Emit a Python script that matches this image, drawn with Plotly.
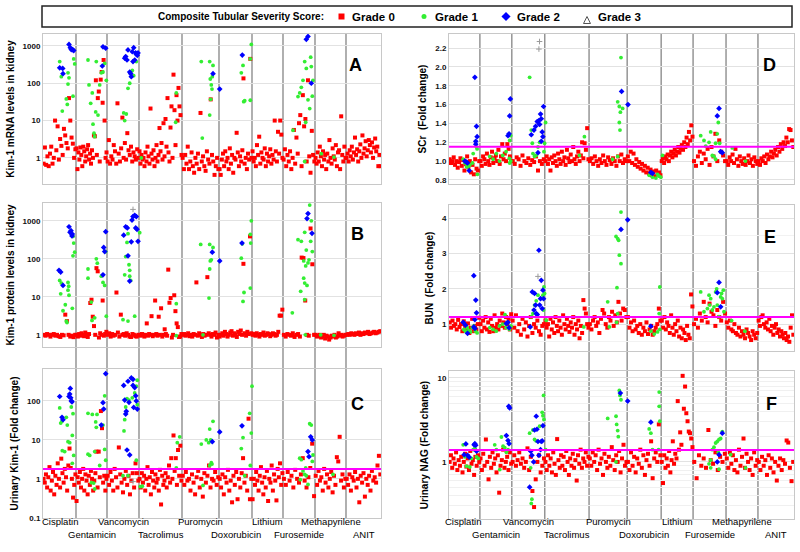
import math
import plotly.graph_objects as go

# ---------------- data ----------------
DRUGS = ["Cisplatin", "Gentamicin", "Vancomycin", "Tacrolimus", "Puromycin",
         "Doxorubicin", "Lithium", "Furosemide", "Methapyrilene", "ANIT"]
GROUP_SIZES = [33, 31, 32, 43, 37, 33, 31, 32, 31, 35]   # animals per study (sample index span)

LEGEND_TITLE = "Composite Tubular Severity Score:"
GRADE_NAMES = ["Grade 0", "Grade 1", "Grade 2", "Grade 3"]

# Panel A: Kim-1 mRNA in kidney (grade 0 values listed per study, in sample order)
A_GRADE0 = [
    [0.7,1.9,0.65,1.1,0.6,1.3,2.0,0.7,1.0,10,1.6,7,0.9,3.2,2.1,1.2,6,4,2.5,1.8,40,10,3.5,2.4,1.0,1.7],
    [1.8,0.5,1.4,0.9,1.9,1.2,0.6,2.0,1.5,0.8,1.1,1.7,2.2,0.9,1.3,0.7,1.6,1.0,4,3.8,120,1.2,40,60,0.8,125,200,30,420,10,1.0,1.4],
    [0.8,3.0,0.7,1.1,0.9,2.2,1.5,0.7,29,1.3,0.8,1.8,12,1.0,2.5,0.9,4.6,1.6,1.2,2.0,0.8,1.4,1.1,0.9,1.7,1.0],
    [1.5,0.7,1.2,0.9,1.0,0.6,1.4,0.8,2.0,1.1,0.7,21,1.3,0.9,1.6,0.6,1.0,2.2,0.8,1.2,6.3,1.5,2.5,0.9,8.5,1.1,11,2.0,40,1.4,0.8,6.5,24,1.0,170,19,2.2,48,10,75,24,14,1.2],
    [1.0,0.5,1.2,0.7,2.0,0.5,0.8,1.4,0.6,0.4,1.0,0.7,1.3,0.5,16,0.8,1.1,0.6,0.45,1.5,0.9,0.7,37,1.2,0.8,0.35,0.6,1.0,0.5],
    [0.5,0.35,0.9,1.3,0.6,1.5,0.8,1.0,0.5,1.8,0.7,1.2,0.4,1.0,0.9,4.7,1.4,0.6,1.1,0.8,1.6,135,0.7,1.0,0.5,1.3,0.9,450,1.0],
    [1.5,0.8,1.0,0.6,2.2,1.2,3.7,0.7,1.4,1.0,0.9,1.8,0.6,1.3,0.8,1.1,1.7,0.7,1.2,0.9,10,1.5,0.8,5,1.3,10,4.2,1.0],
    [0.9,1.7,0.6,1.2,0.8,1.5,0.5,1.0,5.6,0.7,3.5,1.3,8.5,14,0.6,48,7,11,0.8,120,1.1,0.4,5.3,1.2,0.8],
    [1.0,0.7,1.4,0.8,2.0,1.1,0.6,1.5,0.9,1.2,0.5,1.3,0.8,3.0,1.0,0.7,1.8,1.1,0.9,2.2,0.6,1.4,1.6,0.5,13,1.2,0.8,2.0,1.0],
    [1.0,1.3,0.8,1.6,1.1,2.0,0.9,1.4,3.5,1.2,1.7,0.8,1.5,2.3,1.0,4,1.3,1.8,2.8,1.1,1.6,3.0,2.2,1.4,2.6,1.0,1.9,3.3,1.5,2.0,0.6,1.2,0.6],
]
# graded animals: [sample index, value]
A_GRADE1 = [[16.7,380],[18.3,150],[19.3,18],[23.3,38],[24.3,27],[25,190],[25,95],[26,140],[29.3,800],[30,45],[30.7,450],[31.7,330],
            [45,420],[46,90],[47.7,29],[49.3,55],[50,8],[51,4.6],[51.7,3.7],[52.7,17],[53.3,380],[55,14],[56.7,90],[58.3,190],[60,200],[61.7,340],[63.3,120],
            [80.7,16],[81.7,10],[83.3,15],[85,73],[86.7,100],[87.7,200],[89.3,220],[90.7,160],[93.3,380],
            [98.3,1.0],[133.3,55],[132.7,9],
            [158.3,380],[159.3,3.4],[166.7,380],[166.7,14],[167.3,130],[167.7,37],[168.3,90],[169,70],[170,300],[169.3,150],
            [198.3,190],[200,300],[200.7,32],[201.7,34],[207.3,35],[208.3,1100],[207.3,450],
            [250,5.5],[255,44],[256.7,55],[258.3,78],[260,120],[261.7,380],[262.7,9],[263.3,250],[265,36],[266.7,21],[267.7,500],[268.3,280],[269.3,45],[270,120],[261.7,0.8],
            [278.3,1.3],[291,1.05]]
A_GRADE2 = [[16.7,260],[19.7,250],[20,180],[26,1100],[27.3,900],[28.3,800],[29.7,800],[30.7,750],
            [59.3,290],[60,950],[62.7,870],
            [81.7,470],[82.7,520],[84,420],[85,780],[86.7,200],[87.7,180],[88.3,150],[89.3,700],[90,380],[90.7,900],[91.7,420],[92.7,650],[93.3,600],[94.3,560],[95,650],
            [170,180],[176.7,70],[199.3,570],
            [263.3,1500],[265,1800],[268.3,100]]
A_GRADE3 = []

# Panel B: Kim-1 protein in kidney
B_GRADE0 = [
    [1.0,0.95,1.05,1.0,0.9,1.0,1.05,0.95,1.0,0.92,0.88,1.0,0.97,3.4,2.3,1.0,0.9,0.95,0.87,1.0],
    [1.0,0.9,1.05,0.95,1.1,1.0,0.92,1.15,1.0,0.88,1.05,6.9,8.4,3,1.7,1.0,57,47,0.85,1.1,1.0,8,0.95,1.05,1.2],
    [1.0,1.1,0.9,1.05,0.95,1.0,13,1.15,0.9,3.4,1.0,1.05,0.95,1.1,1.0,0.9,0.88,1.05,1.0,0.92,0.9,1.0],
    [1.0,0.95,1.05,1.0,0.9,1.0,2,0.95,1.05,1.0,3.1,0.92,1.0,8,1.05,0.95,3,1.0,5,0.9,1.0,1.4,1.05,0.95,52,7,9.3,0.85,1.0,11,4.2,2,1.6,0.88,0.9,1.05],
    [1.0,1.05,0.95,1.0,1.1,0.92,1.0,0.9,1.05,1.0,24,0.95,1.1,1.0,0.88,1.05,0.95,1.0,33,1.1,1.0,0.9,1.05,1.0,1.15,0.85,1.0],
    [0.9,1.0,1.1,0.95,1.2,1.05,0.9,1.0,1.15,1.25,0.95,1.1,1.0,0.88,1.2,1.05,1.3,1.0,74,1.1,0.95,1.2,1.05,390,1.1],
    [1.0,1.05,0.95,1.1,1.0,0.9,1.05,1.0,1.15,0.95,1.0,1.1,1.05,0.92,1.0,1.1,1.05,0.95,1.0,1.2,3.2,3.2,4.6],
    [1.0,0.9,1.05,1.0,0.95,1.1,0.88,1.0,1.05,0.9,108,105,8,1.0,0.95,630,72,1.0],
    [1.0,0.9,0.95,1.0,0.85,0.9,1.0,0.8,0.95,0.9,0.75,0.85,0.95,0.9,1.0,0.85,0.9,1.1,0.95,1.0,0.9,0.95,1.0],
    [1.0,1.05,1.0,1.1,1.05,1.0,1.1,1.05,1.15,1.0,1.1,1.05,1.15,1.1,1.2,1.05,1.1,1.15,1.2,1.1,1.15,1.2,1.25],
]
B_GRADE1 = [[16.7,27],[18.3,23],[17.7,12],[20,4.3],[22.3,6.2],[23.3,2.3],[24,2.1],[25,24],[25.7,19],[26,11],[25,15],[29.3,5],[30,120],[30.7,260],[31.7,150],[30,390],
            [45,54],[45,31],[48.3,7.3],[49,2.4],[51.7,2.8],[53.3,100],[54.3,77],[58.3,35],[60,24],[61.7,20],[62.7,155],[63.3,3.1],
            [80,2.5],[81.7,38],[82.7,115],[84,270],[85,460],[86,70],[86.7,50],[85,2.3],[86.7,35],[87.7,27],[96.7,490],[91.7,3.1],
            [133.3,6.6],[133.3,0.95],
            [157.7,240],[166.7,240],[167.3,88],[166,9.3],[166.7,54],[168.3,94],[170,200],[160,1.0],
            [198.3,104],[199.3,250],[201,13],[200,7.6],[207.3,17],[207.7,260],[208.3,1000],[207.3,440],
            [249.3,3.8],[255,320],[257.7,14],[258.3,290],[260.7,88],[260.7,31],[261.7,23],[261.7,500],[262.7,65],[263.3,170],[264,20],[265,78],[266,94],[266.7,2600],[267.7,290],[268.3,1000],[269.3,155],[261.7,8.4],[262.3,1.0],
            [277.7,1.0],[291,0.97]]
B_GRADE2 = [[16,50],[17.7,45],[20,20],[26,700],[27,500],[28,550],[29,400],[29.3,450],
            [60,38],[60.7,200],[61.7,155],[62.7,520],
            [80.7,420],[82.7,700],[84.3,650],[85,120],[86.7,26],[88.3,280],[89,1050],[90,1300],[91.7,1400],[93.3,1300],[92.7,650],[94,600],[95,290],
            [169.3,150],[176.7,88],[199,260],
            [265,1560],[264,1150],[269,470]]
B_GRADE3 = [[90,2000]]

# Panel C: urinary Kim-1 (fold change)
C_GRADE0 = [
    [1.0,0.8,1.3,0.6,1.1,2.0,0.5,0.9,1.5,0.4,1.2,0.7,2.5,1.0,0.6,3.3,1.4,0.8,1.8,1.1,0.5,2.2,6,1.9,1.0,0.33,0.7,1.3],
    [0.27,1.1,0.8,1.5,0.6,1.0,1.8,0.5,1.3,0.9,0.4,1.2,0.7,1.6,1.0,0.5,0.9,1.4,5,0.6,5,1.1,55,20,0.8,1.2,0.5,1.0],
    [1.2,0.7,1.5,0.9,0.5,1.8,1.1,0.6,6.4,1.3,0.8,0.45,1.0,1.6,0.7,1.2,0.4,0.9,1.4,0.6,2.5,1.4,0.9],
    [1.0,0.6,1.4,0.8,1.2,0.5,1.0,2.0,0.7,1.1,0.4,1.5,0.9,0.6,1.3,0.8,1.0,0.5,1.7,0.22,1.2,0.7,0.9,1.4,0.6,1.1,2.2,0.8,3.4,1.0,13,1.6,3.4,0.7,5.5,1.2,7.1,0.9],
    [1.2,0.7,1.5,0.9,1.0,0.5,1.3,0.8,0.4,1.1,1.6,0.6,1.0,0.35,1.4,0.8,1.2,2.2,0.6,1.0,0.9,1.5,0.7,1.1],
    [1.0,0.6,1.3,0.4,1.1,0.8,1.7,0.5,0.9,0.25,1.2,0.7,1.5,0.3,1.0,0.6,1.4,3.4,0.8,1.2,0.5,35,0.3,1.0],
    [0.3,1.0,0.7,1.5,0.9,0.5,1.2,2.0,0.8,0.4,1.1,0.6,1.6,0.27,1.0,0.8,2.2,0.5,1.3,0.9,0.28,1.8,1.1,2.5,0.7,1.4],
    [1.0,0.7,1.5,0.9,1.2,0.6,1.7,1.0,0.8,1.3,3.4,0.9,0.6,1.1,1.9,8,0.36],
    [1.2,0.7,1.6,0.9,1.1,0.5,1.8,0.8,1.3,0.6,1.0,1.5,0.45,1.2,0.7,3.6,2.8,12,0.9,1.3,0.6,1.0],
    [1.0,0.7,1.3,0.5,1.1,0.9,1.5,0.6,1.0,0.25,1.2,0.8,1.4,0.35,1.0,0.7,1.2,0.5,1.6,0.9,1.1,0.8,2.2,3.9,1.3],
]
C_GRADE1 = [[16.7,66],[17.7,27],[19,30],[19.3,5.3],[21.7,5],[23.3,38],[25,9],[24.3,24],[26.7,8.5],[28.3,70],[29.3,13],[30,47],[29.3,2.5],[30.7,4],
            [45,48],[45,4.3],[46.7,4],[49.3,45],[52.7,29],[53.3,21],[51.7,5],[54,45],[56.7,2.2],[61.7,135],[61.7,5.7],[62.7,3],[60,24],[48.3,0.8],[50.7,0.78],[51.7,0.55],
            [80,1.2],[81,17],[81.7,33],[82.7,70],[84,115],[85,1.2],[86,105],[89.3,120],[91.7,160],[93.3,240],[94.3,340],[94.3,80],[93.3,3],[97.3,0.63],
            [133.3,1.9],[134.3,8.5],[136.7,12],[99.3,0.65],
            [158.3,7.8],[163.3,10],[165.7,8.5],[166.7,19],[167.7,10],[170,30],[168.3,2.6],[169,2.4],[160,0.68],[166.7,2.2],
            [198.3,6],[200,11.5],[201.7,1.2],[206.7,48],[207.3,2.2],[208.3,15],[209,240],
            [256.7,3.4],[258.3,3.1],[260,1.6],[261.7,1.3],[262.7,1.9],[263.3,1.2],[265,0.72],[266.7,26],[268.3,24],[269.3,2.8],[270,4.1],[257.3,0.95],
            [290,1.3]]
C_GRADE2 = [[16.7,130],[19,38],[20,33],[26.7,150],[27.3,210],[27.7,120],[28.3,100],[29,95],[26,130],
            [58.3,24],[60,90],[60.7,62],[62.7,500],
            [80.7,250],[81.7,105],[82.7,46],[83.3,54],[84,5.5],[85,320],[86,92],[86.7,4.1],[88.3,390],[90,360],[90.7,68],[91.7,220],[92.7,135],[93.3,100],[94.3,62],[90,250],
            [169.3,9],[176.7,16],[199,23],
            [265,5],[266,3.7],[267.7,12],[269.3,10]]
C_GRADE3 = [[90,0.85]]

# Panel D: serum creatinine (fold change)
D_GRADE0 = [
    [1.02,0.98,1.0,1.04,0.96,1.0,0.93,0.99,1.03,0.95,1.01,0.9,0.97,1.05,0.94,1.0,0.88,0.96,0.86,1.02,0.92,0.9,1.0],
    [1.0,0.95,1.05,1.02,0.97,1.08,1.0,0.96,1.04,1.1,0.98,1.03,1.06,1.0,1.12,0.97,1.05,1.18,1.02,1.08,1.0,1.18,1.13,1.05,1.0],
    [1.0,0.97,1.04,1.02,0.95,1.06,1.0,0.98,1.03,0.96,1.01,0.99,1.05,0.9,1.0,0.97,1.02],
    [1.0,1.05,0.97,1.02,0.9,1.04,0.98,1.06,1.0,0.95,1.08,1.02,0.97,1.1,1.0,1.04,0.96,1.12,1.03,0.99,1.07,1.0,1.15,1.02,0.97,1.05,1.1,1.0,1.06,1.2,1.03,1.19,1.12,1.35,1.02],
    [1.0,1.03,0.97,1.05,1.0,0.95,1.02,0.98,1.06,1.0,0.96,1.04,1.01,0.97,1.03,1.0,0.95,1.05,1.0,1.07,0.98,1.02,1.0],
    [1.05,1.0,1.1,0.98,1.08,0.96,1.02,0.94,0.99,0.92,0.97,0.9,0.95,0.88,0.93,0.87,0.91,0.85,0.89,0.84,0.9,0.86,0.88,0.85],
    [1.0,1.03,0.98,1.05,1.02,1.07,1.0,1.06,1.1,1.04,1.08,1.12,1.06,1.1,1.15,1.09,1.13,1.17,1.12,1.2,1.15,1.25,1.18,1.31,1.22,1.38,1.26],
    [1.0,0.95,1.05,1.1,0.98,1.08,1.02,1.13,0.96,1.15,1.05,1.29,1.0,1.22,1.1,1.06,1.0],
    [1.0,0.96,1.04,1.0,1.07,0.98,1.13,1.02,0.95,1.05,1.0,0.97,1.03,0.96,1.0,1.06,0.98,1.02,0.95,1.04,1.0,0.97],
    [1.0,0.96,1.03,1.0,1.05,0.98,1.07,1.02,1.05,1.1,1.04,1.08,1.12,1.06,1.15,1.1,1.18,1.13,1.2,1.16,1.25,1.2,1.34,1.33,1.22,1.15],
]
D_GRADE1 = [[16.8,1.02],[18.4,0.98],[20,0.94],[21.6,0.94],[23.2,0.96],[25.8,0.98],[26.5,1.08],[30.6,0.86],[29.7,1.15],[30.3,1.13],
            [42.6,1.05],[45.8,1.02],[48.9,1.08],[52,1.0],[55.2,1.06],[58.4,1.1],[61.6,1.03],[63,1.0],[62.9,1.27],[61.9,1.22],[61.9,0.98],
            [81.3,1.89],[82.9,1.33],[83.9,1.19],[84.5,1.08],[86.1,1.05],[87.7,1.06],[89.4,1.15],[91,1.2],[96.8,1.41],[95.2,1.1],[95.8,1.19],
            [134.5,1.26],[129.7,1.06],
            [166.8,1.63],[168.4,1.58],[169.4,1.52],[170,2.1],[168.4,1.41],[169,1.33],[171.6,1.56],[161.9,1.02],[166.8,1.05],
            [197.4,0.85],[200.6,0.83],[203.9,0.82],[207,0.84],[208.7,0.83],[205.5,0.86],
            [210.3,1.06],
            [247.4,1.27],[250.6,1.22],[252.3,1.16],[255.5,1.2],[257.1,1.31],[258.7,1.06],[260.3,1.05],[261.9,1.19],[263.5,1.29],[264.5,1.41],[265.8,1.19],[266.8,1.1],[261.9,1.02],
            [278.1,1.14],[290.9,1.0]]
D_GRADE2 = [[18.4,1.0],[20,0.99],[21,0.98],[22.6,0.9],[28.1,1.89],[29,1.18],[29.7,1.37],[30.3,1.26],[29,1.21],
            [60.3,1.27],[61.3,1.29],[61.9,1.48],[62.6,1.66],
            [82.9,1.28],[85.5,1.33],[87.1,1.37],[88.7,1.42],[90.3,1.43],[91,1.39],[91.9,1.5],[92.6,1.45],[93.5,1.31],[94.2,1.26],[94.8,1.58],[92.6,1.21],[89.4,1.09],
            [170.6,1.74],[176.8,1.6],
            [199,0.88],[200.6,0.87],
            [263.5,1.48],[265.2,1.56],[266.8,1.1],[268.4,1.09]]
D_GRADE3 = [[90.9,2.27],[90.3,2.19]]

# Panel E: blood urea nitrogen (fold change)
E_GRADE0 = [
    [1.05,0.9,1.1,0.95,1.0,0.85,1.12,0.92,1.0,0.8,1.08,0.95,0.88,1.02,0.75,0.9,1.15,0.8,0.95,0.85,1.0,1.18],
    [1.0,0.8,1.1,0.9,1.2,0.85,1.05,0.78,1.15,0.95,0.8,1.25,0.9,1.0,0.85,1.1,0.95,1.3,1.05,0.9,1.2,1.0,1.15,0.85,1.28],
    [1.1,0.9,1.25,0.8,1.0,0.7,1.15,0.85,1.05,0.65,0.95,1.2,0.75,1.0,0.9,1.1,0.8,0.7,0.95,1.0],
    [1.1,0.9,1.0,0.65,1.15,0.85,1.05,0.75,1.2,0.95,0.8,1.1,0.9,0.7,1.25,1.0,0.85,1.15,0.95,0.78,1.05,0.9,1.2,0.7,1.0,0.85,1.1,0.6,0.95,0.75,1.68,1.44,1.3,1.0,0.9],
    [1.0,0.85,1.1,1.2,0.95,1.05,0.75,1.15,1.4,1.3,1.0,0.9,1.2,1.1,1.35,0.95,1.25,1.05,1.63,1.3,1.1,1.44,1.4,1.2],
    [1.2,0.9,1.05,0.8,1.1,0.85,0.95,0.75,1.0,0.7,0.9,0.8,1.05,0.72,0.85,0.95,0.7,0.8,0.9,1.0,1.44,1.1],
    [1.1,0.9,1.2,0.85,1.05,0.95,0.75,1.25,0.9,0.7,1.0,0.8,1.1,0.65,0.9,0.6,0.85,0.75,0.55,0.95,0.7,0.6,1.84,1.5],
    [1.0,1.15,0.9,1.3,1.1,1.63,1.2,1.05,1.58,1.35,1.25,0.95,1.4,1.2,1.1,1.63,1.3],
    [1.05,0.9,1.1,0.85,0.8,1.0,0.75,0.7,0.9,0.65,0.8,0.7,0.6,0.85,0.75,0.65,0.55,0.8,0.7,0.6,0.75],
    [1.1,0.95,1.2,1.25,1.0,0.9,1.05,0.85,1.15,0.8,0.95,0.7,0.9,1.0,0.75,0.85,0.65,0.8,0.7,0.6,0.75,0.55,0.65,0.5,0.9,1.25,0.7],
]
E_GRADE1 = [[17.4,0.85],[19,0.8],[20.6,0.9],[22.3,0.82],[23.9,0.78],[25.5,0.9],[27.1,0.95],[28.7,0.8],[30.3,0.75],
            [42.6,0.9],[45.8,0.85],[48.9,0.8],[52,0.95],[55.2,1.0],[57.4,1.27],[58.4,0.9],[61.6,0.85],[63.2,0.95],
            [82.9,1.21],[84.5,1.3],[86.1,1.54],[87.7,1.66],[89.4,1.82],[94.2,1.82],[95.2,2.05],[95.8,1.87],[94.8,1.4],[97.4,1.11],
            [133.9,0.92],
            [157.1,1.63],[158.7,0.92],[165.2,3.48],[166.8,3.42],[167.7,3.37],[168.4,2.95],[170,4.17],[170,2.71],[166.1,2.03],[166.8,1.3],[165.8,1.05],
            [199,0.8],[202.3,0.72],[205.5,0.78],[207.7,0.85],[207.7,2.05],[207.1,1.3],
            [247.4,1.91],[250.6,1.35],[253.9,1.44],[255.5,1.82],[256.1,1.54],[257.1,1.72],[258.7,1.4],[260.3,1.49],[261.9,1.91],[262.9,2.0],[263.5,1.54],[265.2,1.21],[266.8,1.77],[267.7,1.87],[268.4,1.72],[269.4,1.96],[270,1.35],
            [277.4,1.1],[290.3,0.8]]
E_GRADE2 = [[16.8,1.05],[19,0.97],[21,0.74],[27.1,0.92],[27.1,2.37],[29,1.68],[29.7,1.32],[28.1,1.13],[28.1,0.88],
            [58.7,1.02],[60.3,1.05],[61.3,0.9],
            [81.9,0.92],[83.9,1.91],[86.1,1.87],[85.5,1.4],[87.1,1.54],[87.7,1.3],[88.7,1.27],[90.3,3.09],[91,1.54],[91.9,1.72],[92.6,2.24],[93.5,1.44],[94.2,1.96],[94.8,1.72],
            [170,3.68],[176.5,3.95],[199,0.94],
            [263.5,1.89],[265.2,2.18],[266.8,1.49]]
E_GRADE3 = [[89.4,2.35]]

# Panel F: urinary NAG (fold change)
F_GRADE0 = [
    [1.0,1.2,0.85,1.1,0.95,1.3,0.8,1.05,0.9,1.15,0.75,1.0,1.25,0.88,1.1,0.8,1.35,0.95,1.05,0.7,1.15,0.9,1.2,1.0],
    [1.1,0.8,1.25,0.9,1.85,1.0,0.62,1.15,0.85,1.3,0.95,1.1,0.75,1.2,0.43,0.9,1.05,1.4,0.85,1.0,1.15,0.8,1.3,0.95],
    [1.0,1.2,0.9,1.05,1.3,0.95,1.1,0.85,1.0,1.45,0.8,1.15,0.45,0.29,0.62,1.0,1.2,0.75,0.9,1.1],
    [1.0,0.8,1.2,0.9,1.1,0.75,1.3,0.95,0.7,1.87,1.05,0.85,1.2,0.9,1.15,0.8,1.35,1.0,0.7,1.1,0.9,1.25,0.85,1.05,0.6,1.2,0.95,1.4,0.85,1.1,1.0,1.3,0.9,1.15],
    [1.1,0.9,1.3,1.0,1.2,0.8,1.4,0.95,1.1,0.7,1.25,1.0,0.85,1.15,0.9,1.5,1.05,0.8,1.2,1.0,1.35,0.75,1.1,1.6,0.9,1.0],
    [1.0,0.8,1.3,0.9,1.15,0.75,1.1,0.95,1.4,0.85,1.2,0.7,1.05,1.25,0.9,1.76,0.64,1.1,1.3,1.0,2.8,1.2],
    [1.0,0.56,1.2,0.85,1.1,0.9,1.35,0.75,1.05,1.76,0.95,1.25,1.1,5.3,1.4,2.25,1.6,10.6,4.3,7.9,3.8,3.05,2.3,2.2,1.9,1.5],
    [1.0,0.64,1.2,0.9,1.1,0.85,2.4,1.05,0.95,1.3,0.8,1.15,1.0,1.25],
    [1.1,0.85,1.3,0.95,1.2,0.8,1.05,0.75,1.4,0.9,1.15,1.9,0.85,1.25,1.0,0.8,1.1,0.7,1.3,0.9,1.05],
    [1.0,0.8,1.15,0.9,1.05,0.7,1.2,0.85,1.1,0.75,1.0,0.6,0.9,1.1,0.8,1.05,0.95,1.8,1.7,0.85,0.59,1.0],
]
F_GRADE1 = [[16.8,1.6],[18.4,1.15],[20,0.89],[23.2,0.87],[24.8,1.1],[26.5,1.4],[28.1,1.45],[29.7,1.15],[31.3,1.1],
            [47.4,1.6],[49,1.4],[52.3,0.81],[53.9,1.98],[55.5,1.54],[57.1,1.48],[58.7,1.3],[60.3,1.4],
            [81.3,2.2],[82.3,0.85],[82.9,0.32],[83.5,0.36],[84.5,2.4],[86.1,1.85],[87.7,1.78],[91,2.66],[93.5,3.9],[94.2,3.55],[95.2,3.2],[94.8,6.2],[96.8,1.4],
            [157.1,3.3],[165.2,3.5],[165.8,2.8],[166.8,2.36],[167.4,2.0],[168.4,7.1],[169,6.2],[170,5.5],[165.2,1.0],
            [197.4,2.47],[199,2.2],[200.6,1.4],[207.1,6.8],[207.1,4.6],[207.7,3.05],[206.5,1.4],
            [255.5,0.95],[257.1,1.05],[258.7,1.4],[260.3,1.5],[261.9,1.68],[263.5,1.75],[265.2,0.82],[265.2,1.85],[266.8,1.9],[268.4,2.3],[257.1,0.85],[264.5,1.3],
            [276.5,1.22],[290.9,0.85]]
F_GRADE2 = [[17.7,1.22],[19.4,1.64],[21,1.2],[22.6,1.14],[27.4,1.6],[28.1,1.65],[29,1.58],[29.7,1.34],
            [58.7,2.06],[61,4.6],[61.9,4.4],[61.3,1.65],[60.3,1.8],
            [81.3,0.5],[82.3,1.34],[83.5,1.2],[85.2,1.0],[86.1,2.4],[87.7,3.5],[88.4,2.45],[89.4,1.75],[90.3,1.2],[91.9,1.4],[92.6,1.75],[93.5,1.78],[94.2,2.7],
            [169.4,6.6],[176.5,5.3],[199,2.97],
            [263.5,1.0],[265.2,1.22],[268.4,2.2]]
F_GRADE3 = []

# threshold (magenta) lines
C_THRESHOLD = 1.8
D_THRESHOLD = 1.153
E_THRESHOLD = 1.2
F_THRESHOLD = 1.39

# ---------------- styling / layout ----------------
FONT = "Liberation Sans, Arial, sans-serif"
RED, GREEN, BLUE, GREY3 = "#ff0000", "#33ee33", "#0000ff", "#9a9a9a"
W, H = 800, 552

def dx(a, b):
    return [a / W, b / W]

def dy(top, bot):
    return [1 - bot / H, 1 - top / H]

bounds = []
acc = 0
for s in GROUP_SIZES:
    acc += s
    bounds.append(acc)
starts = [0] + bounds[:-1]
TOTAL = bounds[-1]

LEFT, RIGHT = dx(43, 381), dx(449, 794)
XR_LEFT, XR_RIGHT = [0, TOTAL], [3, TOTAL]

panels = [
    dict(n=1, letter="A", xd=LEFT, yd=dy(34, 184), xr=XR_LEFT, g=(A_GRADE0, A_GRADE1, A_GRADE2, A_GRADE3),
         log=True, yr=[-0.70, 3.32], tv=[1, 10, 100, 1000], title="Kim-1 mRNA levels in kidney", thr=None, lpos=(0.95, 0.873)),
    dict(n=2, letter="D", xd=RIGHT, yd=dy(34, 184), xr=XR_RIGHT, g=(D_GRADE0, D_GRADE1, D_GRADE2, D_GRADE3),
         log=False, yr=[0.757, 2.35], tv=[0.8, 1.0, 1.2, 1.4, 1.6, 1.8, 2.0, 2.2], title="SCr  (Fold change)", thr=D_THRESHOLD, lpos=(0.954, 0.873)),
    dict(n=3, letter="B", xd=LEFT, yd=dy(203, 347), xr=XR_LEFT, g=(B_GRADE0, B_GRADE1, B_GRADE2, B_GRADE3),
         log=True, yr=[-0.32, 3.47], tv=[1, 10, 100, 1000], title="Kim-1 protein levels in kidney", thr=None, lpos=(0.955, 0.868)),
    dict(n=4, letter="E", xd=RIGHT, yd=dy(205, 351), xr=XR_RIGHT, g=(E_GRADE0, E_GRADE1, E_GRADE2, E_GRADE3),
         log=False, yr=[0.24, 4.37], tv=[1, 2, 3, 4], title="BUN  (Fold change)", thr=E_THRESHOLD, lpos=(0.954, 0.863)),
    dict(n=5, letter="C", xd=LEFT, yd=dy(369, 518), xr=XR_LEFT, g=(C_GRADE0, C_GRADE1, C_GRADE2, C_GRADE3),
         log=True, yr=[-1.005, 2.82], tv=[0.1, 1, 10, 100], title="Urinary Kim-1 (Fold change)", thr=C_THRESHOLD, lpos=(0.955, 0.846)),
    dict(n=6, letter="F", xd=RIGHT, yd=dy(371, 519), xr=XR_RIGHT, g=(F_GRADE0, F_GRADE1, F_GRADE2, F_GRADE3),
         log=True, yr=[-0.68, 1.083], tv=[1, 10], title="Urinary NAG (Fold change)", thr=F_THRESHOLD, lpos=(0.957, 0.858)),
]

fig = go.Figure()

for p in panels:
    n = p["n"]
    xa = "x" if n == 1 else "x%d" % n
    ya = "y" if n == 1 else "y%d" % n
    g0, g1, g2, g3 = p["g"]
    xs, ys = [], []
    for gi, vals in enumerate(g0):
        lo = max(starts[gi], p["xr"][0])
        hi = bounds[gi]
        step = (hi - lo) / len(vals)
        for i, v in enumerate(vals):
            xs.append(lo + (i + 0.5) * step)
            ys.append(v)
    fig.add_trace(go.Scatter(x=xs, y=ys, mode="markers", xaxis=xa, yaxis=ya, showlegend=False,
                             marker=dict(symbol="square", size=4, color=RED, line=dict(width=0)), hoverinfo="skip"))
    for pts, sym, size, col in ((g1, "circle", 3.8, GREEN), (g2, "diamond", 4.4, BLUE), (g3, "cross-thin-open", 4, GREY3)):
        if not pts:
            continue
        fig.add_trace(go.Scatter(x=[q[0] for q in pts], y=[q[1] for q in pts], mode="markers", xaxis=xa, yaxis=ya,
                                 showlegend=False, hoverinfo="skip",
                                 marker=dict(symbol=sym, size=size, color=col, line=dict(width=1 if "open" in sym else 0, color=col))))
    if p["thr"] is not None:
        fig.add_trace(go.Scatter(x=[0, TOTAL], y=[p["thr"], p["thr"]], mode="lines", xaxis=xa, yaxis=ya,
                                 showlegend=False, hoverinfo="skip", line=dict(color="#ff00ff", width=2)))

    xkey = "xaxis" if n == 1 else "xaxis%d" % n
    ykey = "yaxis" if n == 1 else "yaxis%d" % n
    fig.layout[xkey] = dict(domain=p["xd"], anchor=ya, range=p["xr"], showgrid=False, zeroline=False, automargin=False,
                            showticklabels=False, ticks="", showline=True, mirror=True, linecolor="#c8c8c8", linewidth=1)
    if p["log"]:
        ttext = ["%g" % v for v in p["tv"]]
    elif n == 2:
        ttext = ["%.1f" % v for v in p["tv"]]
    else:
        ttext = ["%g" % v for v in p["tv"]]
    yax = dict(domain=p["yd"], anchor=xa, range=p["yr"], zeroline=False, showgrid=True, gridcolor="#e2e2e2", gridwidth=1,
               tickvals=p["tv"], ticktext=ttext, automargin=False,
               ticks="", showline=True, mirror=True, linecolor="#c8c8c8", linewidth=1,
               tickfont=dict(family=FONT, size=8, color="#111", weight="bold"),
               title=dict(text=p["title"], font=dict(family=FONT, size=10, color="#000", weight="bold"), standoff=6))
    if p["log"]:
        yax["type"] = "log"
    if n == 6:
        yax["minor"] = dict(showgrid=True, gridcolor="#f0f0f0", tickvals=[0.3, 0.4, 0.5, 0.6, 0.7, 0.8, 0.9, 2, 3, 4, 5, 6, 7, 8, 9])
    if n == 4:
        yax["minor"] = dict(showgrid=True, gridcolor="#f2f2f2", dtick=0.5)
    fig.layout[ykey] = yax

    fig.add_annotation(text=p["letter"], xref=xa + " domain", yref=ya + " domain", x=p["lpos"][0], y=p["lpos"][1],
                       showarrow=False, font=dict(family=FONT, size=18, color="#000", weight="bold"))

# study separators spanning each column
for xa, ybot in (("x", dy(369, 518)[0]), ("x2", dy(371, 519)[0])):
    for b in bounds[:-1]:
        fig.add_shape(type="line", xref=xa, yref="paper", x0=b, x1=b, y0=ybot, y1=dy(34, 184)[1],
                      line=dict(color="#858585", width=1.3), layer="below")

# study names under bottom panels (alternating rows)
for xa in ("x5", "x6"):
    for i, name in enumerate(DRUGS):
        c = (starts[i] + bounds[i]) / 2
        fig.add_annotation(text=name, xref=xa, yref="paper", x=c, y=(1 - 529 / H) if i % 2 == 0 else (1 - 542 / H),
                           showarrow=False, font=dict(family=FONT, size=9.5, color="#000"))

# ---- legend box built on a hidden pixel-scaled axis ----
LEG_Y = dy(6, 27)
fig.layout["xaxis7"] = dict(domain=[0, 1], range=[0, W], visible=False, fixedrange=True, anchor="y7")
fig.layout["yaxis7"] = dict(domain=LEG_Y, range=[0, 1], visible=False, fixedrange=True, anchor="x7")
leg_sym_x = [341.5, 424, 506, 587]
leg_syms = ["square", "circle", "diamond", "arrow-up-open"]
leg_sizes = [6, 5, 7, 7]
leg_cols = [RED, GREEN, BLUE, "#555555"]
for xv, sym, sz, col, name in zip(leg_sym_x, leg_syms, leg_sizes, leg_cols, GRADE_NAMES):
    fig.add_trace(go.Scatter(x=[xv], y=[0.5], mode="markers", xaxis="x7", yaxis="y7", showlegend=False, hoverinfo="skip",
                             marker=dict(symbol=sym, size=sz, color=col, line=dict(width=1 if "open" in sym else 0, color=col))))
    fig.add_annotation(text=name, xref="x7", yref="y7", x=xv + 8.5, y=0.5, xanchor="left", showarrow=False,
                       font=dict(family=FONT, size=11.5, color="#000", weight="bold"))
fig.add_annotation(text=LEGEND_TITLE, xref="x7", yref="y7", x=326, y=0.5, xanchor="right", showarrow=False,
                   font=dict(family=FONT, size=10, color="#000", weight="bold"))

fig.add_shape(type="rect", xref="paper", yref="paper", x0=42 / W, x1=792 / W, y0=LEG_Y[0], y1=LEG_Y[1],
              line=dict(color="#222", width=1.5), fillcolor="rgba(0,0,0,0)")

fig.update_layout(
    width=W, height=H, margin=dict(l=0, r=0, t=0, b=0),
    paper_bgcolor="white", plot_bgcolor="rgba(0,0,0,0)",
    font=dict(family=FONT, color="#000"),
    showlegend=False,
)

fig.write_html("out.html", config={"displayModeBar": False},
               post_script="document.body.style.margin='0';document.body.style.overflow='hidden';")
